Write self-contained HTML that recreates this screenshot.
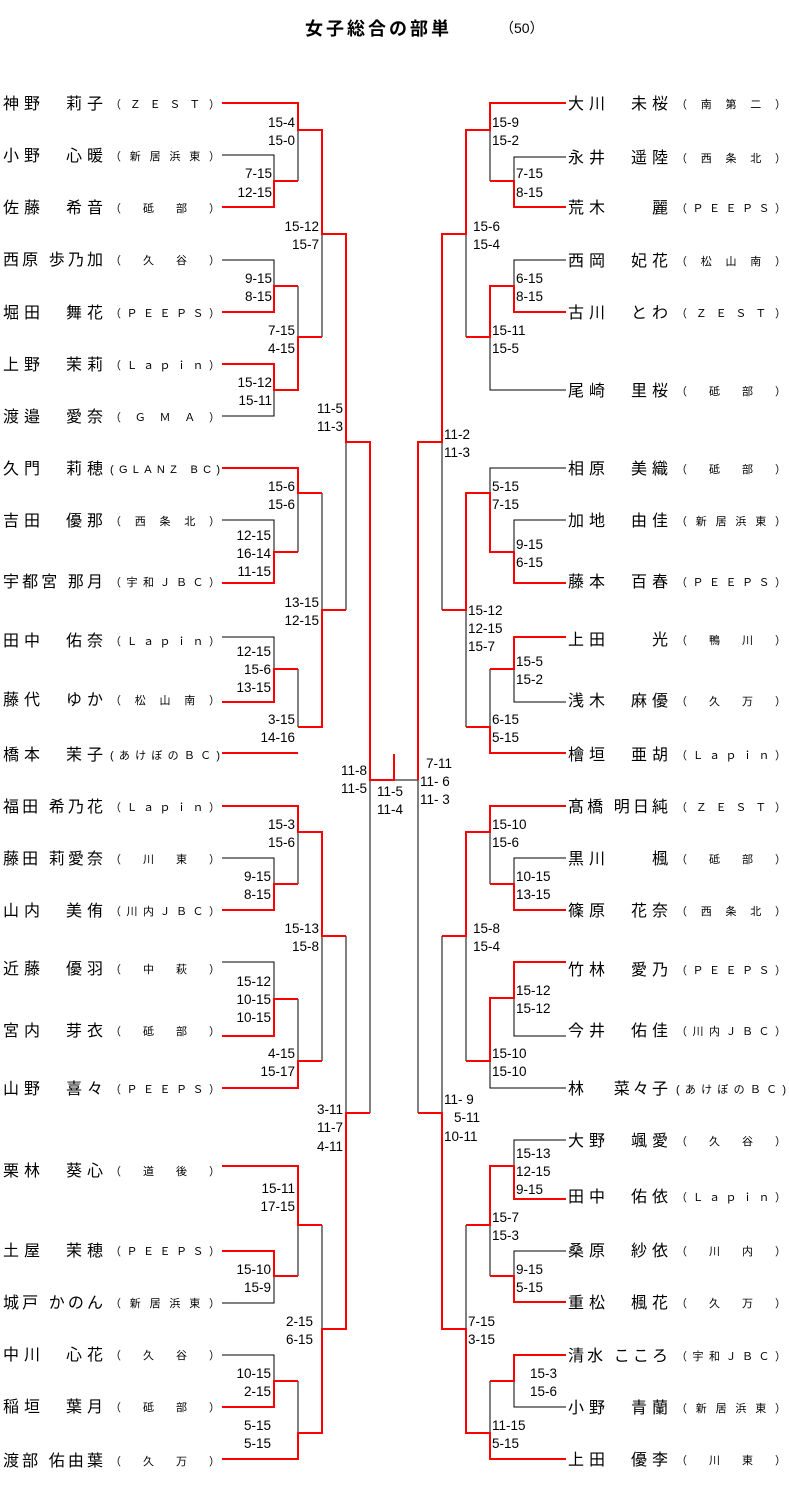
<!DOCTYPE html>
<html><head><meta charset="utf-8"><style>
html,body{margin:0;padding:0;background:#fff}
svg{display:block}
text{font-family:"Liberation Sans","Noto Sans CJK JP",sans-serif;fill:#000}
.n{font-size:16px}
.s{font-size:11px}
.c{font-size:13.5px}
.r{text-anchor:end}
path{shape-rendering:crispEdges}
</style></head><body>
<svg width="789" height="1486" viewBox="0 0 789 1486" xmlns="http://www.w3.org/2000/svg">
<text x="305" y="35" style="font-size:18px;font-weight:bold;letter-spacing:3px">女子総合の部単</text>
<text x="500" y="33" style="font-size:14px">（50）</text>

<g fill="none" stroke="#000" stroke-width="1">
<path d="M222 155H274V181M298 130V181M222 260H274V286M298 286V337M322 234V337M222 416H274V390M346 442V610M322 493V610M298 493V552M222 520H274V552M222 637H274V669M298 669V727M298 832V884M222 858H274V884M346 936V1113M322 936V1061M222 962H274V999M298 999V1061M370 780V1113M298 1225V1276M222 1303H274V1276M322 1225V1329M222 1355H274V1381M298 1381V1433M394 780H418"/>
<path d="M490 130V181M566 157H514V181M566 260H514V286M466 234V337M566 390H490V337M442 442V610M566 468H490V493M566 520H514V552M466 610V727M490 669V727M566 702H514V669M418 780V1113M442 936V1113M490 832V884M566 858H514V884M466 936V1061M566 1036H514V998M566 1088H490V1061M466 1225V1329M490 1225V1276M566 1140H514V1166M566 1251H514V1276M514 1381V1407H566M490 1381V1433"/>
</g>
<g fill="none" stroke="#f00" stroke-width="2">
<path d="M222 103H298V130H322V234H346V442H370V780H394V754M222 207H274V181H298M222 312H274V286H298M222 364H274V390H298V337H322M222 468H298V493H322M222 583H274V552H298M222 702H274V669H298M298 727H322V610H346M222 753H298M222 806H298V832H322V936H346M222 910H274V884H298M222 1036H274V999H298M222 1088H298V1061H322M370 1113H346V1329H322V1433H298V1459H222M222 1166H298V1225H322M222 1251H274V1276H298M222 1407H274V1381H298"/>
<path d="M566 103H490V130H466V234H442V442H418V780M566 207H514V181H490M566 312H514V286H490V337H466M442 610H466V493H490V552H514V583H566M566 637H514V669H490M566 753H490V727H466M418 1113H442V1329H466V1433H490V1459H566M442 936H466V832H490V806H566M566 910H514V884H490M566 962H514V998H490V1061H466M466 1225H490V1166H514V1199H566M566 1302H514V1276H490M566 1355H514V1381H490"/>
</g>

<g class="n">
<text x="3" y="109" textLength="100" lengthAdjust="spacing">神野　莉子</text>
<text x="3" y="161" textLength="100" lengthAdjust="spacing">小野　心暖</text>
<text x="3" y="213" textLength="100" lengthAdjust="spacing">佐藤　希音</text>
<text x="3" y="265" textLength="100" lengthAdjust="spacing">西原 歩乃加</text>
<text x="3" y="318" textLength="100" lengthAdjust="spacing">堀田　舞花</text>
<text x="3" y="370" textLength="100" lengthAdjust="spacing">上野　茉莉</text>
<text x="3" y="422" textLength="100" lengthAdjust="spacing">渡邉　愛奈</text>
<text x="3" y="474" textLength="100" lengthAdjust="spacing">久門　莉穂</text>
<text x="3" y="526" textLength="100" lengthAdjust="spacing">吉田　優那</text>
<text x="3" y="587" textLength="100" lengthAdjust="spacing">宇都宮 那月</text>
<text x="3" y="646" textLength="100" lengthAdjust="spacing">田中　佑奈</text>
<text x="3" y="705" textLength="100" lengthAdjust="spacing">藤代　ゆか</text>
<text x="3" y="760" textLength="100" lengthAdjust="spacing">橋本　茉子</text>
<text x="3" y="812" textLength="100" lengthAdjust="spacing">福田 希乃花</text>
<text x="3" y="864" textLength="100" lengthAdjust="spacing">藤田 莉愛奈</text>
<text x="3" y="916" textLength="100" lengthAdjust="spacing">山内　美侑</text>
<text x="3" y="974" textLength="100" lengthAdjust="spacing">近藤　優羽</text>
<text x="3" y="1036" textLength="100" lengthAdjust="spacing">宮内　芽衣</text>
<text x="3" y="1094" textLength="100" lengthAdjust="spacing">山野　喜々</text>
<text x="3" y="1176" textLength="100" lengthAdjust="spacing">栗林　葵心</text>
<text x="3" y="1256" textLength="100" lengthAdjust="spacing">土屋　茉穂</text>
<text x="3" y="1308" textLength="100" lengthAdjust="spacing">城戸 かのん</text>
<text x="3" y="1360" textLength="100" lengthAdjust="spacing">中川　心花</text>
<text x="3" y="1412" textLength="100" lengthAdjust="spacing">稲垣　葉月</text>
<text x="3" y="1466" textLength="100" lengthAdjust="spacing">渡部 佑由葉</text>
</g>
<g class="s">
<text x="110" y="108" textLength="110" lengthAdjust="spacing">（ＺＥＳＴ）</text>
<text x="110" y="160" textLength="110" lengthAdjust="spacing">（新居浜東）</text>
<text x="110" y="212" textLength="110" lengthAdjust="spacing">（　砥　部　）</text>
<text x="110" y="264" textLength="110" lengthAdjust="spacing">（　久　谷　）</text>
<text x="110" y="317" textLength="110" lengthAdjust="spacing">（ＰＥＥＰＳ）</text>
<text x="110" y="369" textLength="110" lengthAdjust="spacing">（Ｌａｐｉｎ）</text>
<text x="110" y="421" textLength="110" lengthAdjust="spacing">（ＧＭＡ）</text>
<text x="110" y="473" textLength="110" lengthAdjust="spacing">(GLANZ BC)</text>
<text x="110" y="525" textLength="110" lengthAdjust="spacing">（西条北）</text>
<text x="110" y="586" textLength="110" lengthAdjust="spacing">（宇和ＪＢＣ）</text>
<text x="110" y="645" textLength="110" lengthAdjust="spacing">（Ｌａｐｉｎ）</text>
<text x="110" y="704" textLength="110" lengthAdjust="spacing">（松山南）</text>
<text x="110" y="759" textLength="110" lengthAdjust="spacing">(あけぼのＢＣ)</text>
<text x="110" y="811" textLength="110" lengthAdjust="spacing">（Ｌａｐｉｎ）</text>
<text x="110" y="863" textLength="110" lengthAdjust="spacing">（　川　東　）</text>
<text x="110" y="915" textLength="110" lengthAdjust="spacing">（川内ＪＢＣ）</text>
<text x="110" y="973" textLength="110" lengthAdjust="spacing">（　中　萩　）</text>
<text x="110" y="1035" textLength="110" lengthAdjust="spacing">（　砥　部　）</text>
<text x="110" y="1093" textLength="110" lengthAdjust="spacing">（ＰＥＥＰＳ）</text>
<text x="110" y="1175" textLength="110" lengthAdjust="spacing">（　道　後　）</text>
<text x="110" y="1255" textLength="110" lengthAdjust="spacing">（ＰＥＥＰＳ）</text>
<text x="110" y="1307" textLength="110" lengthAdjust="spacing">（新居浜東）</text>
<text x="110" y="1359" textLength="110" lengthAdjust="spacing">（　久　谷　）</text>
<text x="110" y="1411" textLength="110" lengthAdjust="spacing">（　砥　部　）</text>
<text x="110" y="1465" textLength="110" lengthAdjust="spacing">（　久　万　）</text>
</g>

<g class="n">
<text x="568" y="109" textLength="100" lengthAdjust="spacing">大川　未桜</text>
<text x="568" y="163" textLength="100" lengthAdjust="spacing">永井　遥陸</text>
<text x="568" y="213" textLength="100" lengthAdjust="spacing">荒木　　麗</text>
<text x="568" y="266" textLength="100" lengthAdjust="spacing">西岡　妃花</text>
<text x="568" y="318" textLength="100" lengthAdjust="spacing">古川　とわ</text>
<text x="568" y="396" textLength="100" lengthAdjust="spacing">尾崎　里桜</text>
<text x="568" y="474" textLength="100" lengthAdjust="spacing">相原　美織</text>
<text x="568" y="526" textLength="100" lengthAdjust="spacing">加地　由佳</text>
<text x="568" y="587" textLength="100" lengthAdjust="spacing">藤本　百春</text>
<text x="568" y="645" textLength="100" lengthAdjust="spacing">上田　　光</text>
<text x="568" y="706" textLength="100" lengthAdjust="spacing">浅木　麻優</text>
<text x="568" y="760" textLength="100" lengthAdjust="spacing">檜垣　亜胡</text>
<text x="568" y="812" textLength="100" lengthAdjust="spacing">髙橋 明日純</text>
<text x="568" y="864" textLength="100" lengthAdjust="spacing">黒川　　楓</text>
<text x="568" y="916" textLength="100" lengthAdjust="spacing">篠原　花奈</text>
<text x="568" y="975" textLength="100" lengthAdjust="spacing">竹林　愛乃</text>
<text x="568" y="1036" textLength="100" lengthAdjust="spacing">今井　佑佳</text>
<text x="568" y="1094" textLength="100" lengthAdjust="spacing">林　 菜々子</text>
<text x="568" y="1146" textLength="100" lengthAdjust="spacing">大野　颯愛</text>
<text x="568" y="1202" textLength="100" lengthAdjust="spacing">田中　佑依</text>
<text x="568" y="1256" textLength="100" lengthAdjust="spacing">桑原　紗依</text>
<text x="568" y="1308" textLength="100" lengthAdjust="spacing">重松　楓花</text>
<text x="568" y="1361" textLength="100" lengthAdjust="spacing">清水 こころ</text>
<text x="568" y="1413" textLength="100" lengthAdjust="spacing">小野　青蘭</text>
<text x="568" y="1465" textLength="100" lengthAdjust="spacing">上田　優李</text>
</g>
<g class="s">
<text x="676" y="108" textLength="110" lengthAdjust="spacing">（南第二）</text>
<text x="676" y="162" textLength="110" lengthAdjust="spacing">（西条北）</text>
<text x="676" y="212" textLength="110" lengthAdjust="spacing">（ＰＥＥＰＳ）</text>
<text x="676" y="265" textLength="110" lengthAdjust="spacing">（松山南）</text>
<text x="676" y="317" textLength="110" lengthAdjust="spacing">（ＺＥＳＴ）</text>
<text x="676" y="395" textLength="110" lengthAdjust="spacing">（　砥　部　）</text>
<text x="676" y="473" textLength="110" lengthAdjust="spacing">（　砥　部　）</text>
<text x="676" y="525" textLength="110" lengthAdjust="spacing">（新居浜東）</text>
<text x="676" y="586" textLength="110" lengthAdjust="spacing">（ＰＥＥＰＳ）</text>
<text x="676" y="644" textLength="110" lengthAdjust="spacing">（　鴨　川　）</text>
<text x="676" y="705" textLength="110" lengthAdjust="spacing">（　久　万　）</text>
<text x="676" y="759" textLength="110" lengthAdjust="spacing">（Ｌａｐｉｎ）</text>
<text x="676" y="811" textLength="110" lengthAdjust="spacing">（ＺＥＳＴ）</text>
<text x="676" y="863" textLength="110" lengthAdjust="spacing">（　砥　部　）</text>
<text x="676" y="915" textLength="110" lengthAdjust="spacing">（西条北）</text>
<text x="676" y="974" textLength="110" lengthAdjust="spacing">（ＰＥＥＰＳ）</text>
<text x="676" y="1035" textLength="110" lengthAdjust="spacing">（川内ＪＢＣ）</text>
<text x="676" y="1093" textLength="110" lengthAdjust="spacing">(あけぼのＢＣ)</text>
<text x="676" y="1145" textLength="110" lengthAdjust="spacing">（　久　谷　）</text>
<text x="676" y="1201" textLength="110" lengthAdjust="spacing">（Ｌａｐｉｎ）</text>
<text x="676" y="1255" textLength="110" lengthAdjust="spacing">（　川　内　）</text>
<text x="676" y="1307" textLength="110" lengthAdjust="spacing">（　久　万　）</text>
<text x="676" y="1360" textLength="110" lengthAdjust="spacing">（宇和ＪＢＣ）</text>
<text x="676" y="1412" textLength="110" lengthAdjust="spacing">（新居浜東）</text>
<text x="676" y="1464" textLength="110" lengthAdjust="spacing">（　川　東　）</text>
</g>

<g class="c r">
<text x="295" y="127">15-4</text><text x="295" y="145">15-0</text>
<text x="272" y="178">7-15</text><text x="272" y="197">12-15</text>
<text x="272" y="283">9-15</text><text x="272" y="301">8-15</text>
<text x="295" y="335">7-15</text><text x="295" y="353">4-15</text>
<text x="272" y="387">15-12</text><text x="272" y="405">15-11</text>
<text x="319" y="231">15-12</text><text x="319" y="249">15-7</text>
<text x="343" y="413">11-5</text><text x="343" y="431">11-3</text>
<text x="295" y="491">15-6</text><text x="295" y="509">15-6</text>
<text x="271" y="540">12-15</text><text x="271" y="558">16-14</text><text x="271" y="576">11-15</text>
<text x="319" y="607">13-15</text><text x="319" y="625">12-15</text>
<text x="271" y="656">12-15</text><text x="271" y="674">15-6</text><text x="271" y="692">13-15</text>
<text x="295" y="724">3-15</text><text x="295" y="742">14-16</text>
<text x="367" y="775">11-8</text><text x="367" y="793">11-5</text>
<text x="295" y="829">15-3</text><text x="295" y="847">15-6</text>
<text x="271" y="881">9-15</text><text x="271" y="899">8-15</text>
<text x="319" y="933">15-13</text><text x="319" y="951">15-8</text>
<text x="271" y="986">15-12</text><text x="271" y="1004">10-15</text><text x="271" y="1022">10-15</text>
<text x="295" y="1058">4-15</text><text x="295" y="1076">15-17</text>
<text x="343" y="1114">3-11</text><text x="343" y="1132">11-7</text><text x="343" y="1151">4-11</text>
<text x="295" y="1193">15-11</text><text x="295" y="1211">17-15</text>
<text x="271" y="1274">15-10</text><text x="271" y="1292">15-9</text>
<text x="313" y="1326">2-15</text><text x="313" y="1344">6-15</text>
<text x="271" y="1378">10-15</text><text x="271" y="1396">2-15</text>
<text x="271" y="1430">5-15</text><text x="271" y="1448">5-15</text>
</g>
<g class="c">
<text x="377" y="796">11-5</text><text x="377" y="814">11-4</text>
<text x="426" y="768">7-11</text><text x="420" y="786">11- 6</text><text x="420" y="804">11- 3</text>
<text x="492" y="127">15-9</text><text x="492" y="145">15-2</text>
<text x="516" y="178">7-15</text><text x="516" y="197">8-15</text>
<text x="473" y="231">15-6</text><text x="473" y="249">15-4</text>
<text x="516" y="283">6-15</text><text x="516" y="301">8-15</text>
<text x="492" y="335">15-11</text><text x="492" y="353">15-5</text>
<text x="444" y="439">11-2</text><text x="444" y="457">11-3</text>
<text x="492" y="491">5-15</text><text x="492" y="509">7-15</text>
<text x="516" y="549">9-15</text><text x="516" y="567">6-15</text>
<text x="468" y="615">15-12</text><text x="468" y="633">12-15</text><text x="468" y="651">15-7</text>
<text x="516" y="666">15-5</text><text x="516" y="684">15-2</text>
<text x="492" y="724">6-15</text><text x="492" y="742">5-15</text>
<text x="492" y="829">15-10</text><text x="492" y="847">15-6</text>
<text x="516" y="881">10-15</text><text x="516" y="899">13-15</text>
<text x="473" y="933">15-8</text><text x="473" y="951">15-4</text>
<text x="516" y="995">15-12</text><text x="516" y="1013">15-12</text>
<text x="492" y="1058">15-10</text><text x="492" y="1076">15-10</text>
<text x="444" y="1104">11-  9</text><text x="454" y="1122">5-11</text><text x="444" y="1141">10-11</text>
<text x="516" y="1158">15-13</text><text x="516" y="1176">12-15</text><text x="516" y="1194">9-15</text>
<text x="492" y="1222">15-7</text><text x="492" y="1240">15-3</text>
<text x="516" y="1274">9-15</text><text x="516" y="1292">5-15</text>
<text x="468" y="1326">7-15</text><text x="468" y="1344">3-15</text>
<text x="530" y="1378">15-3</text><text x="530" y="1396">15-6</text>
<text x="492" y="1430">11-15</text><text x="492" y="1448">5-15</text>
</g>
</svg>
</body></html>
